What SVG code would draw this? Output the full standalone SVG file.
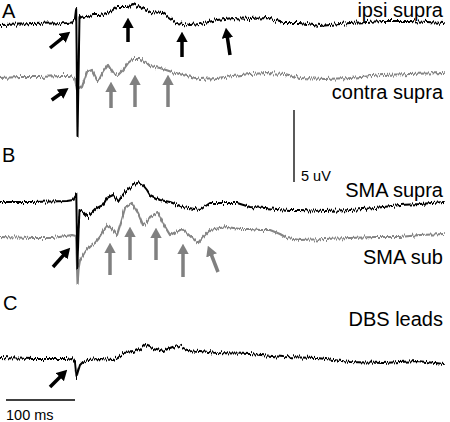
<svg xmlns="http://www.w3.org/2000/svg" width="450" height="422" viewBox="0 0 450 422">
<style>
.lbl{font-family:"Liberation Sans",Arial,sans-serif;font-size:20px;fill:#000}
.pan{font-family:"Liberation Sans",Arial,sans-serif;font-size:20px;fill:#000}
.sm{font-family:"Liberation Sans",Arial,sans-serif;font-size:14.5px;fill:#000}
.tr{fill:none;stroke-width:2;stroke-linejoin:round;stroke-linecap:round}
.blk{stroke:#000}
.gry{stroke:#858585;stroke-width:2.2}
.ab{stroke:#000;stroke-width:3.5;marker-end:url(#hb)}
.ag{stroke:#808080;stroke-width:3.5;marker-end:url(#hg)}
.bar{stroke:#000;stroke-width:1.3}
</style>
<defs>
<filter id="jit" filterUnits="userSpaceOnUse" x="0" y="0" width="450" height="422" color-interpolation-filters="sRGB">
<feTurbulence type="fractalNoise" baseFrequency="1.1 0.03" numOctaves="2" seed="3" result="n"/>
<feColorMatrix in="n" type="matrix" values="0 0 0 0 0.5  0 1 0 0 0  0 0 0 0 0  0 0 0 0 1" result="m"/>
<feDisplacementMap in="SourceGraphic" in2="m" scale="7" xChannelSelector="R" yChannelSelector="G"/>
</filter>
<marker id="hb" viewBox="0 0 10 11" refX="3" refY="5.5" markerWidth="10.5" markerHeight="11.5" markerUnits="userSpaceOnUse" orient="auto"><path d="M0,0 L10,5.5 L0,11 z" fill="#000"/></marker>
<marker id="hg" viewBox="0 0 10 11" refX="3" refY="5.5" markerWidth="10.5" markerHeight="11.5" markerUnits="userSpaceOnUse" orient="auto"><path d="M0,0 L10,5.5 L0,11 z" fill="#808080"/></marker>
</defs>

<g id="traces" filter="url(#jit)">
<polyline id="contra-supra" class="tr gry" points="0,78 20,77 40,77 60,76 70,76 75,78 77,90 79,89 82,87 87,72 92,70 97,80 100,78 103,72 108,65 113,73 118,75 123,70 128,63 133,59 140,59 147,63 150,66 160,68 172,72 183,75 200,79 217,78 233,76 250,74 267,73 285,74 300,78 325,79 350,78 383,75 410,74 444,73"/>
<polyline id="ipsi-supra" class="tr blk" points="0,25 20,24.5 33,24 50,23.5 67,23 72,22.5 75,18 76.2,8 77.5,137 78.8,60 79.5,16 83,18 88,16.5 93,15 100,15 110,12 117,7 127,7 133,4 140,7 147,10 150,12 163,13 170,18 177,23 190,25 200,24 217,20 233,18 250,19 267,18 283,23 300,23 320,26 350,23 383,21 410,21 444,23"/>
<polyline id="sma-sub" class="tr gry" points="0,237 33,238 53,238 72,235 76,236 77.6,283 78.6,268 80,260 82,257 86,250 90,247 95,243 100,237 104,230 108,225 112,229 117,235 121,222 125,208 129,205 132,203 135,208 138,213 143,225 147,222 150,217 155,214 158,213 164,225 170,235 176,232 182,229 190,236 198,243 204,236 210,230 220,228 227,227 240,229 250,229 260,230 270,230 280,234 287,238 300,240 325,239 350,238 375,237 400,237 420,235 444,234"/>
<polyline id="sma-supra" class="tr blk" points="0,202 33,202 67,201 73,200 75,196 76.3,194 77.4,268 78.6,230 79.5,210 83,212 88,217 92,213 97,208 103,205 107,198 113,195 118,202 122,196 127,190 132,186 137,182 140,183 143,185 147,190 150,195 160,200 170,202 183,207 200,210 210,203 225,203 237,203 250,207 265,208 277,209 290,210 300,210 325,211 350,210 375,208 400,205 420,204 444,202"/>
<polyline id="dbs" class="tr blk" points="0,358 33,359 67,359 72,358 75,362 76.5,377 77.5,373 80,365 83,362 88,360 100,359 113,360 118,358 123,353 133,352 140,349 145,345 150,347 163,351 170,348 178,345 187,350 200,351 217,353 250,354 283,357 317,358 350,362 383,363 417,361 444,364"/>
</g>

<g id="arrows">
<line class="ab" x1="50" y1="48" x2="64.5" y2="36.4"/>
<line class="ab" x1="128" y1="42" x2="128" y2="25"/>
<line class="ab" x1="182" y1="57" x2="182" y2="39"/>
<line class="ab" x1="230" y1="55" x2="227" y2="34.9"/>
<line class="ab" x1="51.7" y1="100" x2="62.6" y2="92.3"/>
<line class="ag" x1="111" y1="108" x2="111" y2="89"/>
<line class="ag" x1="135" y1="107" x2="135" y2="82"/>
<line class="ag" x1="168" y1="107" x2="168" y2="82"/>
<line class="ab" x1="53" y1="267" x2="65.3" y2="253.2"/>
<line class="ag" x1="110" y1="275" x2="110" y2="250"/>
<line class="ag" x1="130" y1="260" x2="130" y2="234"/>
<line class="ag" x1="156" y1="260" x2="156" y2="235"/>
<line class="ag" x1="183" y1="277" x2="183" y2="251"/>
<line class="ag" x1="218" y1="272" x2="210.5" y2="252.5"/>
<line class="ab" x1="50" y1="387" x2="62.05" y2="374.95"/>
</g>

<g id="scalebars">
<line class="bar" x1="294" y1="110" x2="294" y2="182"/>
<line class="bar" x1="6" y1="400" x2="75" y2="400"/>
</g>

<g id="labels">
<text class="pan" x="2" y="18">A</text>
<text class="pan" x="2" y="162">B</text>
<text class="pan" x="3" y="310">C</text>
<text class="lbl" x="443" y="17" text-anchor="end">ipsi supra</text>
<text class="lbl" x="443" y="99" text-anchor="end">contra supra</text>
<text class="lbl" x="443" y="197" text-anchor="end">SMA supra</text>
<text class="lbl" x="443" y="264" text-anchor="end">SMA sub</text>
<text class="lbl" x="443" y="326" text-anchor="end">DBS leads</text>
<text class="sm" x="301" y="181">5 uV</text>
<text class="sm" x="6" y="420">100 ms</text>
</g>
</svg>
